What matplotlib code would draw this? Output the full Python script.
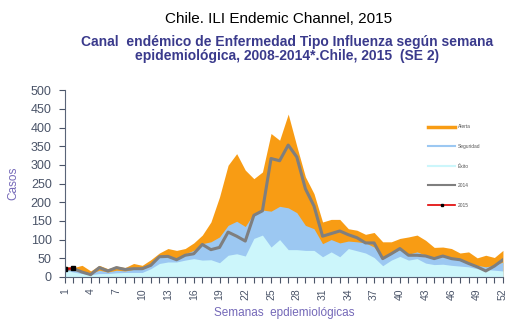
import matplotlib.pyplot as plt

plt.rcParams['font.family'] = 'Liberation Sans'

# canal endemico ILI Chile, semanas 1-52
semanas = list(range(1, 53))

alerta = [29, 25, 31, 16, 31, 22, 29, 25, 36, 31,
          46, 64, 76, 71, 76, 91, 112, 147, 214, 299,
          330, 286, 263, 281, 384, 366, 436, 350, 268, 223,
          147, 154, 154, 129, 125, 114, 119, 94, 94, 103,
          107, 112, 98, 79, 80, 76, 64, 67, 51, 58,
          52, 71]

seguridad = [20, 18, 13, 9, 18, 13, 18, 16, 20, 20,
             31, 55, 58, 49, 62, 71, 89, 94, 107, 138,
             149, 135, 170, 179, 176, 189, 185, 172, 138, 129,
             89, 100, 91, 96, 94, 91, 80, 49, 62, 73,
             61, 67, 58, 52, 54, 49, 45, 37, 31, 27,
             31, 40]

exito = [18, 13, 9, 6, 9, 9, 11, 12, 12, 12,
         22, 36, 40, 40, 45, 49, 45, 46, 38, 58,
         62, 56, 103, 112, 80, 100, 73, 73, 71, 71,
         54, 67, 54, 76, 70, 64, 52, 30, 45, 55,
         45, 49, 37, 33, 34, 31, 29, 27, 22, 20,
         18, 16]

casos_2014 = [20, 22, 13, 6, 25, 16, 25, 20, 22, 22,
              31, 54, 55, 46, 58, 62, 87, 73, 79, 120,
              109, 96, 165, 177, 317, 311, 353, 321, 236, 190,
              109, 116, 123, 113, 105, 91, 91, 49, 62, 76,
              58, 58, 56, 49, 56, 49, 46, 36, 27, 16,
              29, 46]

semanas_2015 = [1, 2]
casos_2015 = [21, 23]

etiquetas_x = list(range(1, 53, 3))

c_alerta = '#F89C14'
c_seg = '#9CC8F2'
c_exito = '#CCF6FB'
c_2014 = '#7F7F7F'
c_2015 = '#E00000'
c_txt = '#4A5468'
c_tit = '#3A3A8C'
c_lab = '#7468B8'

fig = plt.figure(figsize=(5.07, 3.22), dpi=100)
ax = fig.add_axes([0.128, 0.140, 0.864, 0.580])

ax.fill_between(semanas, 0, alerta, color=c_alerta, lw=0, label='Alerta')
ax.fill_between(semanas, 0, seguridad, color=c_seg, lw=0, label='Seguridad')
ax.fill_between(semanas, 0, exito, color=c_exito, lw=0, label='Éxito')
ax.plot(semanas, casos_2014, color=c_2014, lw=2.2, label='2014')
ax.plot(semanas_2015, casos_2015, color=c_2015, lw=1.5, marker='s',
        ms=3, mfc='black', mec='black', label='2015')

ax.set_xlim(1, 52)
ax.set_ylim(0, 500)
ax.set_yticks(range(0, 501, 50))
ax.set_xticks(semanas, minor=True)
ax.set_xticks(etiquetas_x)
ax.set_xticklabels([str(s) for s in etiquetas_x], rotation=90)

for s in ['top', 'right']:
    ax.spines[s].set_visible(False)
for s in ['left', 'bottom']:
    ax.spines[s].set_color('#5A6478')
    ax.spines[s].set_linewidth(0.8)
ax.tick_params(axis='y', labelsize=9, colors=c_txt, length=4.5, width=0.8, pad=5)
ax.tick_params(axis='x', which='both', labelsize=7.5, colors=c_txt, length=4, width=0.8, pad=4)

ax.set_ylabel('Casos', color=c_lab, fontsize=8.5, labelpad=8)
ax.set_xlabel('Semanas  epdiemiológicas', color=c_lab, fontsize=8.5, labelpad=5)

# legenda
handles = [plt.Line2D([], [], color=c_alerta, lw=2.5),
           plt.Line2D([], [], color=c_seg, lw=1.5),
           plt.Line2D([], [], color=c_exito, lw=1.5),
           plt.Line2D([], [], color=c_2014, lw=1.5),
           plt.Line2D([], [], color=c_2015, lw=1.2, marker='s', ms=1.5,
                      mfc='black', mec='black')]
ax.legend(handles, ['Alerta', 'Seguridad', 'Éxito', '2014', '2015'],
          loc='upper left', bbox_to_anchor=(0.82, 0.84), frameon=False,
          fontsize=3.5, labelspacing=3.0, handlelength=5.5, handletextpad=0.6,
          labelcolor='#555555')

fig.text(0.55, 0.942, 'Chile. ILI Endemic Channel, 2015', ha='center', va='center',
         fontsize=11, color='black')
fig.text(0.566, 0.848, 'Canal  endémico de Enfermedad Tipo Influenza según semana\n'
         'epidemiológica, 2008-2014*.Chile, 2015  (SE 2)', ha='center', va='center',
         fontsize=10, fontweight='bold', color=c_tit, linespacing=1.0)

fig.savefig('out.png', dpi=100)
